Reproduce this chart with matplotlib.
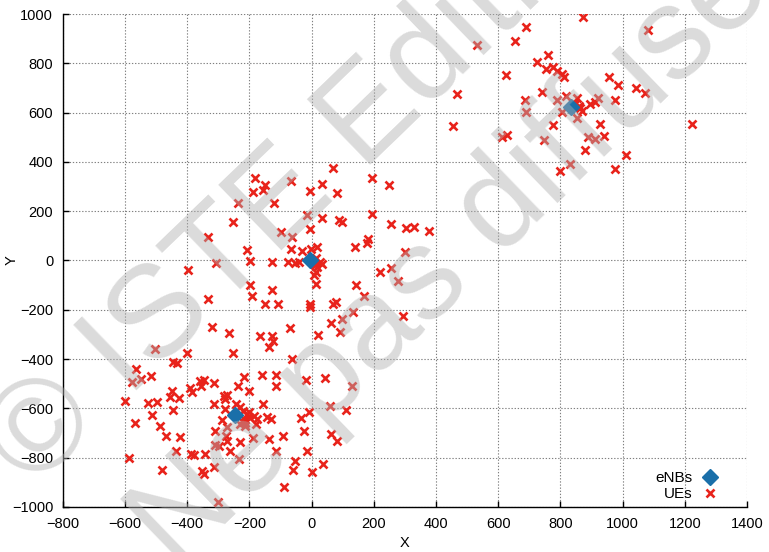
import matplotlib
matplotlib.use("Agg")
import matplotlib.pyplot as plt

plt.rcParams['font.family'] = ['Liberation Sans', 'DejaVu Sans']

# eNB positions
enb_x = [-248, -5, 834]
enb_y = [-626, 2, 624]

# UE positions, upper right cell
ue_ur_x = [872, 688, 1082, 653, 530, 759, 725, 753, 777, 788, 806, 810, 624, 956, 986, 1044,
           1071, 468, 741, 686, 789, 819, 853, 976, 922, 911, 895, 847, 862, 868, 852, 805,
           690, 453, 777, 927, 1222, 611, 629, 890, 912, 940, 747, 878, 1012, 829, 975, 797,
           840, 858]
ue_ur_y = [989, 946, 935, 892, 874, 833, 806, 779, 786, 771, 756, 747, 753, 745, 714, 700,
           678, 677, 686, 651, 652, 666, 661, 651, 659, 642, 634, 634, 618, 607, 580, 602,
           603, 548, 551, 553, 556, 501, 510, 502, 492, 507, 489, 447, 430, 391, 373, 363,
           640, 628]

# UE positions, middle cell
ue_mid_x = [67, 193, 250, -182, -150, -156, -188, -68, 34, -5, 80, -121, 194, -15, 34, 88,
            98, 255, 304, 329, 378, -100, -62, -6, 181, 179, 139, -68, -30, -3, 18, 299,
            14, 26, 33, 11, 18, 14, 8, 13, -198, -129, -75, -54, -41, 220, 256, 279,
            142, 168, -129, -193, -198, -149, -108, -4, -5, 70, 79,
            -238, -252, -334, -209, -308, -399, -334,
            132, 96, 61, 91, -70, 21, -320, -267, -166, -128, -125, -136, -62, 292, -254,
            -504, -402, -445, -432]
ue_mid_y = [377, 334, 305, 334, 307, 286, 277, 324, 312, 284, 272, 232, 187, 184, 172, 163,
            156, 147, 130, 134, 120, 114, 94, 128, 87, 71, 53, 47, 38, 47, 54, 34,
            10, -6, -14, -20, -28, -45, -60, -95, -2, -7, -7, -11, -7, -45, -32, -84,
            -100, -145, -120, -143, -99, -176, -175, -175, -189, -175, -168,
            232, 158, 97, 43, -11, -39, -158,
            -208, -236, -252, -292, -276, -303, -272, -294, -306, -308, -328, -353, -398, -224, -375,
            -359, -374, -413, -417]

# UE positions, lower left cell
ue_ll_x = [-566, -548, -579, -516, -160, -114, -114, -217, -237, -202, -18, 43, 128, -392, -386,
           -358, -347, -355, -315, -449, -457, -426, -447, -601, -525, -499, -514, -315, -283,
           -272, -280, -243, -278, -232, -221, -208, -200, -219, -214, -230, -187, -179, -214,
           -203, -155, -144, -131, -288, -312, -272, -275, -272, -569, -489, -468, -425, -232,
           -190, -136, -93, -34, -8, 59, 109, -24, 61, 80, -310, -299, -262, -436, -387, -377,
           -344, -233, -114, -589, -53, -59, -16, 35, 0, -481, -352, -345, -315, -89, -302,
           -177, -222]
ue_ll_y = [-440, -481, -494, -470, -463, -463, -508, -475, -508, -528, -485, -477, -510, -518, -532,
           -491, -487, -510, -498, -531, -556, -558, -605, -572, -580, -576, -626, -582, -551,
           -546, -562, -582, -603, -596, -612, -623, -637, -643, -661, -664, -633, -664, -670,
           -615, -582, -637, -643, -647, -691, -677, -711, -731, -661, -671, -711, -718, -738,
           -721, -725, -711, -639, -616, -589, -609, -691, -704, -731, -748, -752, -775, -772, -786, -790,
           -786, -807, -775, -802, -813, -851, -772, -827, -860, -851, -854, -867, -840, -921, -980,
           -645, -654]

ue_x = ue_ur_x + ue_mid_x + ue_ll_x
ue_y = ue_ur_y + ue_mid_y + ue_ll_y

fig = plt.figure(figsize=(7.69, 5.52), dpi=100)
ax = fig.add_axes([0.0818, 0.0819, 0.8897, 0.8924])

ax.plot(enb_x, enb_y, ls='none', marker='D', ms=8, color='#1a6fa9', mec='#1a6fa9',
        label='eNBs', zorder=4)
ax.plot(ue_x, ue_y, ls='none', marker='x', ms=6, mew=1.9, color='#e8231b',
        label='UEs', zorder=3)

ax.set_xlim(-800, 1400)
ax.set_ylim(-1000, 1000)
ax.set_xticks(range(-800, 1401, 200))
ax.set_yticks(range(-1000, 1001, 200))
ax.grid(True, color='#808080', lw=0.8, ls=(0, (1.2, 1.6)))
ax.set_axisbelow(True)
ax.tick_params(direction='in', length=4, width=1, labelsize=10.5, pad=7)
for s in ['top', 'right']:
    ax.spines[s].set_visible(False)
for s in ['left', 'bottom']:
    ax.spines[s].set_linewidth(1)

ax.set_xlabel('X', fontsize=10.5, labelpad=4)
ax.set_ylabel('Y', fontsize=10.5)
ax.yaxis.set_label_coords(-0.064, 0.5)

leg = ax.legend(loc='lower right', bbox_to_anchor=(0.963, 0.012), frameon=False,
                markerfirst=False, numpoints=1, fontsize=11, borderaxespad=0,
                borderpad=0, labelspacing=0.1, handletextpad=0.3, handlelength=1.6)

# watermark
wm = dict(color='#afafaf', alpha=0.45, rotation=44, rotation_mode='anchor',
          ha='center', va='center', zorder=10, fontsize=94)
fig.text(341 / 769, 1 - 145 / 552, '© ISTE Editions', **wm)
fig.text(467 / 769, 1 - 243 / 552, 'Ne pas diffuser', **wm)

fig.savefig('out.png', dpi=100)
